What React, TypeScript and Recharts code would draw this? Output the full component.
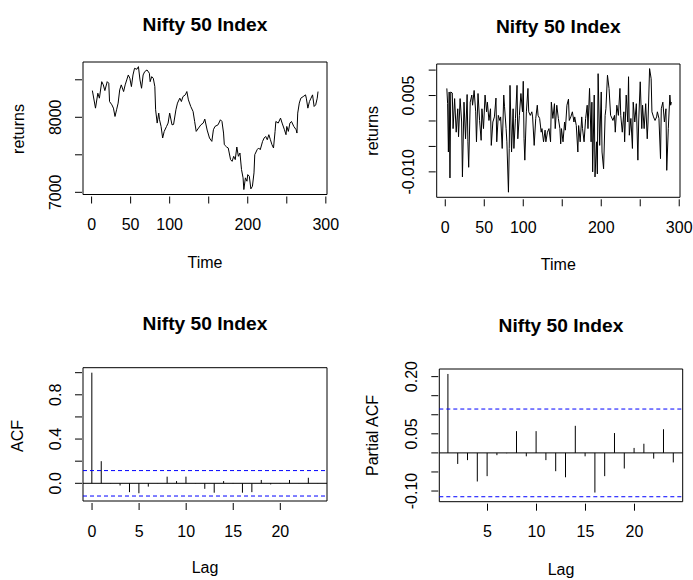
import React from "react";
import { ComposedChart, Line, Bar, XAxis, YAxis, ReferenceLine, ReferenceArea } from "recharts";

const FONT = '"Liberation Sans", Arial, Helvetica, sans-serif';
const W = 693;
const H = 580;

// Nifty 50 index level
const priceTime = [
  1, 5, 8, 10, 13, 15, 17, 20, 22, 23, 26, 28, 30, 32, 34, 36, 38, 41, 43, 45, 47, 49, 51, 53, 55, 58, 60, 62,
  64, 66, 68, 71, 74, 75, 77, 79, 81, 82, 84, 86, 87, 89, 91, 93, 96, 98, 100, 103, 105, 108, 110, 113, 115,
  117, 120, 122, 124, 127, 130, 132, 134, 137, 140, 143, 145, 148, 151, 154, 156, 158, 162, 165, 167, 169, 170,
  173, 175, 178, 180, 182, 184, 186, 188, 190, 192, 194, 195, 197, 199, 200, 202, 204, 206, 208, 209, 212, 214,
  216, 219, 221, 223, 225, 227, 229, 231, 233, 235, 236, 239, 242, 244, 247, 249, 250, 252, 254, 256, 259, 262,
  263, 264, 266, 268, 271, 274, 275, 277, 279, 281, 283, 285, 287, 289, 290,
];
const priceValue = [
  8356, 8122, 8321, 8255, 8475, 8432, 8356, 8475, 8454, 8210, 8166, 8122, 8011, 8100, 8189, 8365, 8432, 8343,
  8432, 8498, 8564, 8520, 8409, 8564, 8653, 8640, 8675, 8498, 8387, 8564, 8608, 8631, 8587, 8475, 8542, 8520,
  8409, 8100, 7923, 8056, 7967, 7878, 7724, 7812, 7878, 7923, 8056, 7900, 7905, 8100, 8189, 8255, 8210, 8276,
  8299, 8343, 8232, 8144, 8077, 7944, 7812, 7857, 7900, 7923, 7976, 7830, 7724, 7679, 7834, 7878, 7900, 7967,
  7944, 7790, 7635, 7604, 7591, 7436, 7413, 7480, 7436, 7604, 7480, 7524, 7303, 7193, 7037, 7193, 7148, 7236,
  7214, 7046, 7081, 7259, 7502, 7568, 7591, 7568, 7679, 7724, 7745, 7701, 7768, 7701, 7635, 7591, 7812, 7944,
  7923, 7989, 7923, 7834, 7768, 7878, 7812, 7923, 7944, 7878, 7834, 7790, 8056, 8189, 8255, 8276, 8299, 8255,
  8122, 8210, 8255, 8299, 8144, 8166, 8255, 8343,
];

// daily returns (top-right panel)
const returnTime = [
  2, 3, 4, 5, 6, 7, 9, 10, 12, 14, 16, 17, 19, 21, 22, 24, 26, 28, 29, 30, 32, 34, 35, 37, 39, 40, 42, 44, 46, 47,
  49, 51, 53, 54, 56, 58, 59, 61, 63, 65, 66, 68, 70, 71, 73, 75, 76, 78, 79, 81, 82, 83, 85, 87, 88, 90, 92, 93,
  95, 97, 99, 100, 101, 102, 104, 106, 107, 109, 111, 112, 114, 116, 118, 119, 121, 123, 124, 126, 128, 129, 131,
  133, 135, 136, 138, 140, 141, 143, 145, 147, 148, 149, 151, 153, 154, 156, 158, 159, 161, 163, 165, 166, 168,
  170, 171, 173, 175, 176, 178, 180, 182, 183, 185, 187, 188, 189, 191, 192, 194, 195, 196, 198, 200, 201, 203,
  205, 206, 208, 210, 212, 213, 215, 217, 218, 220, 222, 224, 225, 227, 229, 230, 232, 234, 235, 236, 238, 240,
  241, 243, 245, 247, 248, 250, 252, 253, 255, 257, 259, 260, 262, 264, 265, 267, 269, 271, 272, 274, 276, 277,
  279, 281, 283, 284, 286, 288, 289, 290,
];
const returnValue = [
  0.0064, 0.0034, -0.0061, 0.0057, -0.0112, 0.0057, 0.0055, -0.0015, 0.0044, -0.0022, 0.0024, -0.0031, 0.0044,
  -0.0002, -0.011, 0.0037, -0.0035, 0.0052, -0.0041, -0.0091, 0.0037, 0.0051, 0.0031, 0.006, 0.0018, -0.0041,
  0.0054, 0.0001, -0.0038, 0.0024, -0.0015, 0.0051, 0.0018, 0.0037, 0.0001, 0.0024, -0.0048, -0.0002, 0.0008,
  0.0045, -0.0041, 0.0011, 0.0001, 0.0008, -0.0054, 0.0051, 0.0028, -0.0015, -0.0041, -0.014, -0.0054, 0.007,
  -0.0061, 0.0024, -0.0054, 0.0005, 0.007, -0.0035, 0.0011, 0.0054, 0.0018, 0.0078, -0.0035, -0.0077, 0.0018,
  0.0064, 0.0018, 0.0011, 0.0018, 0.0008, -0.0048, 0.0005, 0.0031, 0.0011, 0.0005, -0.0022, -0.0015, -0.0041,
  -0.0018, -0.0041, -0.0022, -0.0015, -0.0041, 0.0037, 0.0005, 0.0034, -0.0015, 0.0031, 0.0005, -0.0015, -0.0045,
  -0.0015, -0.0041, -0.0002, -0.0018, 0.0031, 0.0043, 0.0001, 0.0008, 0.0018, -0.0002, 0.0008, -0.0009, -0.0061,
  -0.0009, -0.0041, 0.0008, -0.0015, -0.0041, 0.0005, 0.0031, -0.0015, 0.0064, -0.0041, 0.0037, -0.01, 0.0051,
  -0.011, -0.0041, -0.0104, 0.0093, -0.0048, 0.0057, -0.0061, -0.0094, 0.0011, 0.0024, 0.009, 0.0064, 0.0011,
  0.0008, 0.0001, 0.0011, -0.0022, 0.0031, 0.0011, 0.0064, 0.0011, -0.0022, 0.0018, -0.0041, 0.0051, -0.0002,
  0.0087, -0.0028, 0.0005, -0.0054, 0.0037, -0.0002, 0.0034, -0.0077, -0.0002, 0.0077, -0.0015, 0.0031, -0.0015,
  0.0034, -0.0035, -0.0002, 0.0103, 0.0083, 0.0018, 0.0008, 0.0001, 0.0008, 0.0018, 0.0005, -0.0074, 0.0024,
  0.0037, -0.0002, 0.0024, -0.0097, -0.0015, 0.0051, 0.0031, 0.0037,
];

const acfLag = [0, 1, 2, 3, 4, 5, 6, 7, 8, 9, 10, 11, 12, 13, 14, 15, 16, 17, 18, 19, 20, 21, 22, 23, 24];
const acfValue = [
  1.0, 0.2, -0.003, -0.02, -0.08, -0.09, -0.03, 0.002, 0.06, 0.02, 0.06, -0.002, -0.05, -0.085, 0.02, 0.003,
  -0.085, -0.08, 0.03, -0.01, 0.002, 0.03, -0.002, 0.05, 0.002,
];

const pacfLag = [1, 2, 3, 4, 5, 6, 7, 8, 9, 10, 11, 12, 13, 14, 15, 16, 17, 18, 19, 20, 21, 22, 23, 24];
const pacfValue = [
  0.207, -0.029, -0.019, -0.075, -0.061, -0.006, -0.001, 0.057, -0.009, 0.057, -0.019, -0.048, -0.064, 0.071,
  -0.009, -0.104, -0.061, 0.052, -0.041, 0.013, 0.024, -0.015, 0.062, -0.025,
];

const ciBounds = [0.115, -0.115];

const timeTicks = [0, 50, 100, 150, 200, 250, 300];
const timeLabels = ["0", "50", "100", "", "200", "", "300"];
const priceTicks = [7000, 7500, 8000, 8500];
const priceLabels = ["7000", "", "8000", ""];
const returnTicks = [-0.01, -0.005, 0, 0.005, 0.01];
const returnLabels = ["-0.010", "", "", "0.005", ""];
const acfXTicks = [0, 5, 10, 15, 20];
const acfXLabels = ["0", "5", "10", "15", "20"];
const acfYTicks = [0, 0.2, 0.4, 0.6, 0.8, 1.0];
const acfYLabels = ["0.0", "", "0.4", "", "0.8", ""];
const pacfXTicks = [5, 10, 15, 20];
const pacfXLabels = ["5", "10", "15", "20"];
const pacfYTicks = [-0.1, -0.05, 0, 0.05, 0.1, 0.15, 0.2];
const pacfYLabels = ["-0.10", "", "", "0.05", "", "", "0.20"];

type Box = { l: number; t: number; r: number; b: number };

function makeXTick(ticks: number[], labels: string[]) {
  return (props: any) => {
    const { x, y, payload } = props;
    const label = labels[ticks.indexOf(payload.value)] || "";
    return (
      <g>
        <line x1={x} x2={x} y1={y + 2} y2={y + 9} stroke="#000" strokeWidth={1} />
        {label ? (
          <text x={x} y={y + 30} dy="0.35em" textAnchor="middle" fontSize={16} fontFamily={FONT} fill="#000">
            {label}
          </text>
        ) : null}
      </g>
    );
  };
}

function makeYTick(ticks: number[], labels: string[]) {
  return (props: any) => {
    const { x, y, payload } = props;
    const label = labels[ticks.indexOf(payload.value)] || "";
    return (
      <g>
        <line x1={x - 8} x2={x - 1} y1={y} y2={y} stroke="#000" strokeWidth={1} />
        {label ? (
          <text
            transform={`translate(${x - 28},${y}) rotate(-90)`}
            dy="0.35em"
            textAnchor="middle"
            fontSize={16}
            fontFamily={FONT}
            fill="#000"
          >
            {label}
          </text>
        ) : null}
      </g>
    );
  };
}

const stick = (p: any) => {
  const cx = p.x + p.width / 2;
  return <line x1={cx} x2={cx} y1={p.y} y2={p.y + p.height} stroke="#000" strokeWidth={1} />;
};

interface PanelProps {
  box: Box;
  data: { x: number; y: number }[];
  kind: "line" | "stick";
  xDomain: [number, number];
  yDomain: [number, number];
  xTicks: number[];
  xLabels: string[];
  yTicks: number[];
  yLabels: string[];
  ci?: number[];
}

function Panel({ box, data, kind, xDomain, yDomain, xTicks, xLabels, yTicks, yLabels, ci }: PanelProps) {
  return (
    <div style={{ position: "absolute", left: 0, top: 0 }}>
      <ComposedChart
        width={W}
        height={H}
        data={data}
        margin={{ top: box.t, left: box.l - 40, right: W - box.r, bottom: H - box.b - 40 }}
      >
        <XAxis
          type="number"
          dataKey="x"
          domain={xDomain}
          ticks={xTicks}
          interval={0}
          allowDataOverflow
          axisLine={false}
          tickLine={false}
          tickSize={0}
          tickMargin={0}
          height={40}
          tick={makeXTick(xTicks, xLabels)}
        />
        <YAxis
          type="number"
          domain={yDomain}
          ticks={yTicks}
          interval={0}
          allowDataOverflow
          axisLine={false}
          tickLine={false}
          tickSize={0}
          tickMargin={0}
          width={40}
          tick={makeYTick(yTicks, yLabels)}
        />
        <ReferenceArea
          x1={xDomain[0]}
          x2={xDomain[1]}
          y1={yDomain[0]}
          y2={yDomain[1]}
          fill="none"
          stroke="#000"
          strokeWidth={1}
          ifOverflow="visible"
        />
        {kind === "stick" ? <ReferenceLine y={0} stroke="#000" strokeWidth={1} /> : null}
        {(ci || []).map((c) => (
          <ReferenceLine key={c} y={c} stroke="#0000ff" strokeWidth={1} strokeDasharray="4 3" />
        ))}
        {kind === "line" ? (
          <Line type="linear" dataKey="y" stroke="#000" strokeWidth={1} dot={false} isAnimationActive={false} />
        ) : (
          <Bar dataKey="y" barSize={1} fill="#000" shape={stick} isAnimationActive={false} />
        )}
      </ComposedChart>
    </div>
  );
}

const titles = [
  { x: 205, y: 31 },
  { x: 558.3, y: 33 },
  { x: 205, y: 330.4 },
  { x: 561, y: 332 },
];
const xTitles = [
  { x: 205, y: 268.2, text: "Time" },
  { x: 558.3, y: 269.8, text: "Time" },
  { x: 205, y: 573.2, text: "Lag" },
  { x: 561, y: 574.8, text: "Lag" },
];
const yTitles = [
  { x: 18.3, y: 129, text: "returns" },
  { x: 372, y: 130.8, text: "returns" },
  { x: 17.5, y: 436, text: "ACF" },
  { x: 372.5, y: 435.5, text: "Partial ACF" },
];

export default function App() {
  const priceData = priceTime.map((t, i) => ({ x: t, y: priceValue[i] }));
  const returnData = returnTime.map((t, i) => ({ x: t, y: returnValue[i] }));
  const acfData = acfLag.map((l, i) => ({ x: l, y: acfValue[i] }));
  const pacfData = pacfLag.map((l, i) => ({ x: l, y: pacfValue[i] }));

  return (
    <div style={{ position: "absolute", left: 0, top: 0, width: W, height: H, background: "#fff", overflow: "hidden" }}>
      <Panel
        box={{ l: 83, t: 62, r: 327, b: 194.5 }}
        data={priceData}
        kind="line"
        xDomain={[-11, 301.5]}
        yDomain={[6971, 8737]}
        xTicks={timeTicks}
        xLabels={timeLabels}
        yTicks={priceTicks}
        yLabels={priceLabels}
      />
      <Panel
        box={{ l: 436.7, t: 64, r: 680, b: 197.3 }}
        data={returnData}
        kind="line"
        xDomain={[-11, 301]}
        yDomain={[-0.015, 0.0112]}
        xTicks={timeTicks}
        xLabels={timeLabels}
        yTicks={returnTicks}
        yLabels={returnLabels}
      />
      <Panel
        box={{ l: 83, t: 367.7, r: 327, b: 501 }}
        data={acfData}
        kind="stick"
        xDomain={[-0.96, 24.96]}
        yDomain={[-0.16, 1.045]}
        xTicks={acfXTicks}
        xLabels={acfXLabels}
        yTicks={acfYTicks}
        yLabels={acfYLabels}
        ci={ciBounds}
      />
      <Panel
        box={{ l: 439.3, t: 369, r: 682.7, b: 501.7 }}
        data={pacfData}
        kind="stick"
        xDomain={[0.08, 24.92]}
        yDomain={[-0.128, 0.22]}
        xTicks={pacfXTicks}
        xLabels={pacfXLabels}
        yTicks={pacfYTicks}
        yLabels={pacfYLabels}
        ci={ciBounds}
      />
      <svg width={W} height={H} style={{ position: "absolute", left: 0, top: 0, pointerEvents: "none" }}>
        {titles.map((t, i) => (
          <text key={i} x={t.x} y={t.y} textAnchor="middle" fontSize={19.2} fontWeight="bold" fontFamily={FONT} fill="#000">
            Nifty 50 Index
          </text>
        ))}
        {xTitles.map((t, i) => (
          <text key={i} x={t.x} y={t.y} textAnchor="middle" fontSize={16} fontFamily={FONT} fill="#000">
            {t.text}
          </text>
        ))}
        {yTitles.map((t, i) => (
          <text
            key={i}
            transform={`translate(${t.x},${t.y}) rotate(-90)`}
            dy="0.35em"
            textAnchor="middle"
            fontSize={16}
            fontFamily={FONT}
            fill="#000"
          >
            {t.text}
          </text>
        ))}
      </svg>
    </div>
  );
}
